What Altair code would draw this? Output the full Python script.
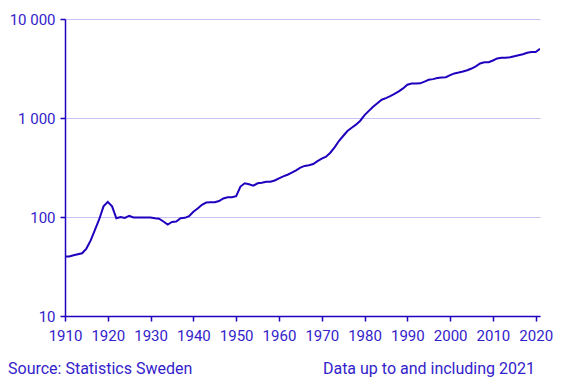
import altair as alt
import pandas as pd

years = list(range(1910, 2022))
values = [
    40, 40, 41, 42, 43, 48, 58, 74, 95, 128,
    142, 128, 97, 100, 98, 103, 99, 99, 99, 99,
    99, 97, 96, 90, 84, 89, 90, 97, 98, 102,
    113, 122, 133, 140, 141, 141, 145, 154, 158, 158,
    162, 203, 219, 214, 207, 219, 222, 227, 227, 234,
    246, 257, 267, 280, 296, 315, 328, 334, 343, 367,
    388, 406, 446, 506, 585, 658, 738, 798, 856, 939,
    1070, 1180, 1300, 1410, 1530, 1590, 1660, 1750, 1860, 1990,
    2170, 2230, 2230, 2240, 2330, 2430, 2470, 2530, 2560, 2580,
    2710, 2820, 2880, 2950, 3040, 3160, 3330, 3550, 3660, 3660,
    3810, 4000, 4060, 4060, 4100, 4200, 4300, 4400, 4560, 4640,
    4640, 5000,
]
x_ticks = [1910, 1920, 1930, 1940, 1950, 1960, 1970, 1980, 1990, 2000, 2010, 2020]
y_ticks = [10, 100, 1000, 10000]
source_text = ["Source: Statistics Sweden"]
note_text = ["Data up to and including 2021"]

BLUE = "#1e00be"
TEXT = "#3322cc"
GRID = "#c6c3f2"
W, H = 475, 297

df = pd.DataFrame({"year": years, "value": values})

line = alt.Chart(df).mark_line(color=BLUE, strokeWidth=2, clip=True).encode(
    x=alt.X(
        "year:Q",
        scale=alt.Scale(domain=[1910, 2021], nice=False, zero=False),
        axis=alt.Axis(
            values=x_ticks, format="d", title=None, grid=False,
            tickSize=5, labelPadding=7, domainColor=BLUE, tickColor=BLUE,
            labelFlush=False,
        ),
    ),
    y=alt.Y(
        "value:Q",
        scale=alt.Scale(type="log", domain=[10, 10000], nice=False),
        axis=alt.Axis(
            values=y_ticks, title=None, grid=True, gridColor=GRID,
            tickSize=5, labelPadding=5, domainColor=BLUE, tickColor=BLUE,
            labelExpr="replace(format(datum.value, ','), ',', ' ')",
        ),
    ),
)

src = alt.Chart(pd.DataFrame({"t": source_text})).mark_text(
    align="left", baseline="middle", font="Roboto", fontSize=16, color=TEXT
).encode(text="t:N", x=alt.value(-57), y=alt.value(H + 53))

note = alt.Chart(pd.DataFrame({"t": note_text})).mark_text(
    align="right", baseline="middle", font="Roboto", fontSize=16, color=TEXT
).encode(text="t:N", x=alt.value(470), y=alt.value(H + 53))

chart = (
    alt.layer(line, src, note)
    .properties(width=W, height=H, padding={"left": 0, "top": 4, "right": 5, "bottom": 5})
    .configure_view(stroke=None)
    .configure_axis(
        labelFont="Roboto", labelFontSize=15, labelColor=TEXT,
        domainWidth=1.5, tickWidth=1.5,
    )
)

chart.save("out.html", embed_options={"renderer": "svg", "actions": False})
